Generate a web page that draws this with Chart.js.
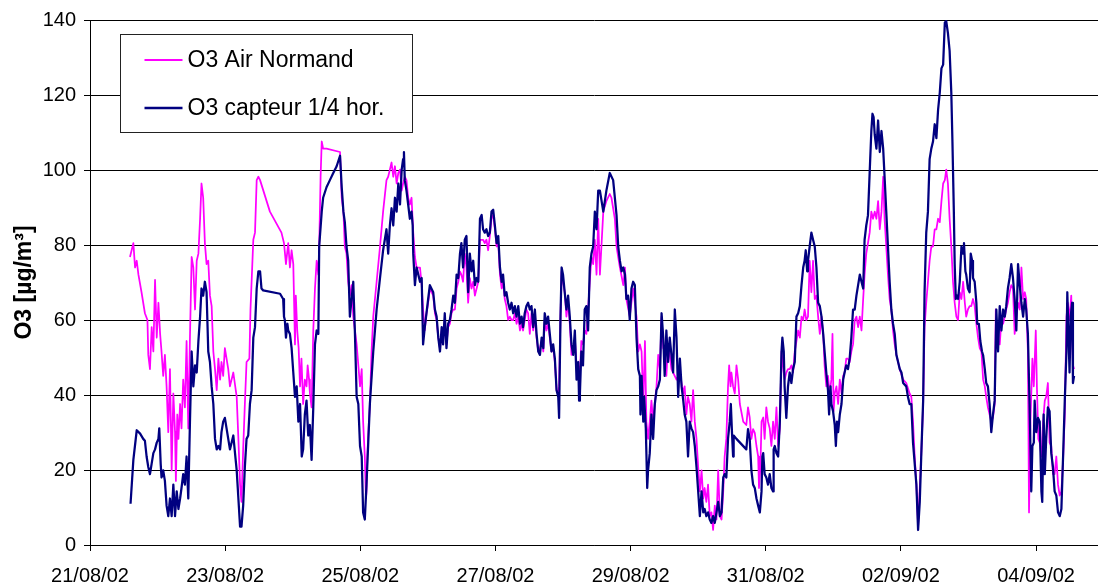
<!DOCTYPE html>
<html>
<head>
<meta charset="utf-8">
<script src="https://cdn.jsdelivr.net/npm/chart.js@4.4.1/dist/chart.umd.min.js"></script>
<style>
html,body{margin:0;padding:0;background:#fff;overflow:hidden;}
canvas{display:block;}
</style>
</head>
<body>
<canvas id="c" width="1098" height="586"></canvas>
<script>
// ---- DATA (time in hours since 21/08/02 00:00, O3 in µg/m3) ----
const seriesLabels = ['O3 Air Normand', 'O3 capteur 1/4 hor.'];
const yTitle = 'O3 [µg/m³]';
const tickHours = [0, 48, 96, 144, 192, 240, 288, 336];
const tickLabels = ['21/08/02', '23/08/02', '25/08/02', '27/08/02', '29/08/02', '31/08/02', '02/09/02', '04/09/02'];

const airHours = [
14.2,15.4,16.0,16.6,17.2,18.3,19.5,20.4,20.7,21.3,21.9,22.5,23.1,23.7,24.3,24.9,25.4,26.0,26.6,27.2,27.8,28.4,29.0,29.6,30.2,30.5,31.0,31.4,32.0,32.5,33.1,33.7,34.3,34.9,35.5,36.1,36.7,37.3,37.9,38.5,39.1,39.6,40.2,40.8,41.4,42.0,42.6,43.2,43.8,44.4,45.0,45.6,46.2,46.7,47.3,47.9,48.5,49.1,49.7,50.9,52.1,52.7,53.3,53.8,54.4,55.0,55.6,56.6,57.0,58.0,58.6,59.2,59.8,
60.4,63.9,68.0,68.9,69.6,70.4,71.0,71.6,72.2,72.8,73.1,73.6,74.1,74.6,75.1,75.7,76.3,76.9,77.3,77.8,78.1,78.7,79.3,79.9,80.5,81.1,81.4,81.9,82.3,82.8,84.0,88.8,89.4,90.0,90.5,91.1,91.7,92.3,92.9,93.5,94.7,95.3,95.9,96.5,97.0,97.6,98.0,98.2,98.5,98.8,99.4,100.0,100.6,101.8,103.0,104.1,105.3,105.9,106.5,107.1,107.7,108.3,108.9,109.5,110.1,110.7,111.2,111.8,112.4,113.0,113.6,114.2,114.8,115.4,116.0,117.2,117.8,118.3,118.9,119.5,120.1,
120.7,121.9,122.5,123.1,123.7,124.3,124.9,125.4,126.0,126.6,127.2,127.8,128.4,129.0,129.6,130.2,130.8,131.4,131.9,132.5,133.1,133.7,134.3,134.9,135.5,136.1,136.7,137.3,137.9,138.5,139.1,139.6,140.2,140.8,141.4,142.0,142.6,143.2,143.8,144.4,145.0,145.6,146.2,146.7,147.3,147.9,148.5,149.1,149.7,150.3,150.9,151.5,152.1,152.7,153.3,153.8,154.4,155.0,155.6,156.2,156.8,157.4,158.0,158.6,159.2,159.8,160.4,161.0,161.5,162.1,162.7,163.3,163.9,164.5,165.1,165.7,166.3,166.6,167.1,167.5,168.0,168.6,169.2,169.8,170.4,171.0,171.6,172.2,172.8,173.4,174.0,174.5,175.1,175.7,176.3,176.9,177.5,178.1,178.7,179.3,179.9,180.5,
181.1,182.3,183.4,184.6,185.2,186.4,187.0,188.2,189.4,190.0,190.5,191.7,192.9,194.1,194.7,195.3,195.9,196.5,197.1,197.6,198.2,198.8,199.4,200.0,201.2,201.8,202.4,203.0,203.6,204.1,204.7,205.3,205.9,206.5,207.1,208.3,209.5,210.7,211.2,211.8,212.4,213.0,213.6,214.2,214.8,215.4,216.0,216.6,217.2,217.8,218.3,218.9,219.5,220.1,220.7,221.3,221.9,222.5,223.1,223.7,224.3,224.9,225.4,226.0,226.6,227.0,227.5,227.8,228.4,229.0,229.6,230.2,230.8,232.0,233.1,233.7,234.3,234.9,235.5,236.1,236.7,237.3,237.6,238.1,238.5,239.1,239.6,240.2,240.8,
241.4,242.0,242.6,243.2,243.8,244.4,245.0,245.6,246.2,246.7,247.3,247.9,248.5,249.1,249.7,250.3,250.9,251.5,252.1,252.7,253.3,253.8,254.4,255.0,255.6,256.2,256.8,257.4,258.0,258.6,259.2,259.8,260.4,260.9,261.5,262.1,262.7,263.3,263.7,264.1,264.5,265.1,265.7,266.3,266.9,267.5,268.0,268.6,269.2,269.8,270.4,271.0,271.6,272.2,272.8,273.4,274.0,274.6,275.1,275.7,276.3,276.9,277.5,278.1,278.7,279.3,279.9,280.5,281.1,281.7,282.2,282.8,283.4,284.0,284.6,285.2,285.8,286.4,287.6,288.8,289.9,291.1,291.7,292.3,292.9,293.5,294.1,294.7,295.3,295.9,296.4,297.0,297.6,298.2,298.8,299.4,300.0,300.6,301.2,
301.8,302.4,303.0,303.6,304.1,304.7,305.3,305.9,306.5,307.1,307.7,308.3,308.9,309.5,310.1,310.7,311.2,311.8,312.4,313.0,313.6,314.2,314.8,315.4,316.0,316.6,317.2,317.8,318.3,318.9,319.5,320.1,320.7,321.3,321.7,322.1,322.6,323.1,323.7,324.3,324.9,325.4,326.0,326.6,327.2,327.8,328.4,329.0,329.6,330.2,330.8,331.4,332.0,332.5,333.1,333.5,334.0,334.7,335.2,335.9,336.3,336.8,337.3,337.9,338.5,339.1,339.6,340.2,340.8,341.4,342.0,342.6,343.2,343.8,344.4,345.0,345.6,346.2,346.8,347.3,347.9,348.5,349.1,349.5
];
const airValues = [
76.8,80.5,74.0,75.8,72.1,67.4,61.8,60.0,50.7,46.9,58.1,51.6,70.7,55.3,64.6,56.3,51.6,45.1,50.7,42.3,30.1,46.9,19.9,40.4,30.1,17.1,34.8,28.3,37.6,31.1,44.1,36.7,54.4,31.1,55.3,76.8,74.0,62.8,75.8,77.7,87.0,96.4,92.6,80.5,74.9,75.8,66.5,63.7,51.6,46.9,41.3,49.7,44.1,48.8,45.1,52.5,49.7,46.9,42.3,46.0,39.5,28.3,16.1,11.5,25.5,37.6,48.8,49.7,62.8,81.4,83.3,97.3,98.2,
97.3,88.9,83.3,80.5,74.9,80.5,74.0,78.6,74.9,53.5,66.5,57.2,52.5,42.3,49.7,37.6,44.1,42.3,47.9,44.1,40.4,36.7,57.2,68.4,75.8,72.1,79.6,98.2,107.6,105.7,105.7,104.8,92.6,88.9,79.6,77.7,70.2,66.5,69.3,60.9,53.5,47.9,42.3,46.9,32.9,23.6,12.4,14.3,23.6,29.2,37.6,51.6,60.9,70.2,79.6,88.9,97.3,98.2,100.1,102.0,98.2,101.0,96.4,99.2,100.1,94.5,96.4,98.2,97.3,92.6,90.8,92.6,83.3,76.8,74.0,74.0,69.3,62.8,57.2,61.8,64.6,
68.4,66.5,61.8,60.0,55.3,52.5,57.2,54.4,60.0,53.5,58.1,59.0,61.8,62.8,62.8,68.4,70.2,72.9,72.1,70.2,77.7,74.0,64.6,71.2,68.4,70.2,66.5,68.4,70.2,81.4,81.4,81.4,80.5,81.4,78.6,82.4,87.0,88.0,84.2,79.6,80.5,72.1,68.4,70.2,65.6,63.7,60.0,60.9,60.0,60.0,61.8,59.0,60.9,57.2,59.0,57.2,60.0,62.8,61.8,56.3,61.8,57.2,60.9,55.3,51.6,52.5,54.4,51.6,60.0,57.2,59.0,55.3,51.6,52.5,48.8,41.3,40.4,42.3,60.9,72.9,70.2,67.4,60.9,64.6,59.0,50.7,51.6,55.3,47.9,47.9,46.0,54.4,53.5,57.2,56.3,62.8,70.2,76.8,74.9,81.4,72.1,87.0,
72.1,88.9,91.7,93.6,92.6,87.0,79.6,74.0,69.3,74.0,65.6,60.9,68.4,60.9,51.6,53.5,51.6,37.6,54.4,32.9,28.3,32.9,38.5,32.9,42.3,50.7,46.9,60.9,52.5,51.6,45.1,53.5,50.7,46.9,46.0,44.1,46.0,40.4,42.3,34.8,39.5,37.6,32.9,41.3,32.9,28.3,20.8,14.3,19.9,12.4,15.2,11.5,16.1,7.7,8.7,4.0,10.5,6.8,19.9,7.7,6.8,14.3,23.6,28.3,42.3,47.9,42.3,46.0,42.3,40.4,47.9,44.1,37.6,32.9,32.0,36.7,34.0,28.3,30.9,29.9,26.4,23.6,15.2,20.8,32.9,34.0,28.3,36.7,32.9,
31.1,26.4,32.9,28.3,36.7,26.4,31.1,51.6,46.9,44.1,46.0,46.9,46.9,47.9,46.0,51.6,54.4,57.2,55.3,60.9,60.0,62.8,60.0,60.9,75.8,67.4,75.8,65.6,66.5,60.9,56.3,60.9,56.3,47.9,42.3,45.1,40.4,44.1,56.3,35.7,40.4,42.3,37.6,44.1,40.4,45.1,46.0,49.7,49.7,48.8,51.6,53.5,59.9,60.9,58.1,60.9,57.2,65.6,72.1,77.7,80.5,83.3,88.9,87.0,88.9,87.0,91.7,84.2,88.9,98.2,87.0,79.6,72.1,65.6,62.8,57.2,53.5,50.7,46.9,44.1,43.2,40.4,39.5,32.9,23.6,16.1,4.9,15.2,25.5,37.6,58.1,64.6,70.2,75.8,79.6,79.6,84.2,84.2,87.0,
86.1,91.7,96.4,97.3,100.1,96.4,87.0,79.6,70.2,64.6,60.9,60.0,67.4,65.6,70.2,64.6,60.9,62.8,63.7,63.7,65.6,63.7,59.0,55.3,52.5,51.6,44.1,42.3,39.5,36.7,34.8,32.9,34.0,37.6,62.8,52.5,54.3,53.5,60.0,59.0,60.9,62.8,64.6,67.4,69.3,68.4,56.3,60.9,64.6,62.8,74.0,65.6,67.4,65.6,51.6,8.7,32.9,49.7,42.3,57.2,42.3,28.3,27.3,23.6,32.9,38.5,39.5,43.2,27.3,26.4,18.9,18.9,23.6,16.1,13.2,14.3,22.6,34.8,60.9,64.6,60.0,66.5,47.9,46.9
];

const captHours = [
14.4,15.4,16.6,17.8,18.9,19.5,20.1,20.7,21.3,21.9,22.5,23.1,23.7,24.3,24.6,25.1,25.4,26.0,26.6,27.2,27.8,28.4,29.0,29.6,30.2,30.8,31.4,32.0,32.5,33.1,33.7,34.3,34.9,35.5,36.1,36.7,37.3,37.9,38.5,39.1,39.6,40.2,40.8,41.4,42.0,42.6,43.2,43.8,44.4,45.0,45.6,46.2,46.7,47.3,47.9,48.5,49.1,49.7,50.3,50.9,51.5,52.1,52.7,53.3,53.8,54.4,55.0,55.6,56.2,56.8,57.4,58.0,58.6,59.2,59.8,
60.4,60.9,61.5,67.5,68.6,68.9,69.2,69.6,70.1,70.4,71.0,71.6,72.2,72.8,73.4,74.0,74.6,75.2,75.7,76.3,76.9,77.5,78.1,78.7,79.3,79.9,80.5,81.1,81.4,82.3,82.8,84.0,85.2,86.4,87.6,88.8,89.4,90.0,90.5,91.1,91.7,92.3,92.9,93.5,94.1,94.7,95.3,95.9,96.5,97.0,97.6,98.2,99.4,100.6,101.8,103.0,104.1,105.3,105.9,106.5,107.1,107.7,108.3,108.9,109.5,110.1,110.7,111.2,111.5,111.8,112.4,113.0,113.6,114.2,114.6,114.8,115.4,116.0,116.6,117.2,117.8,118.3,118.9,119.5,120.1,
120.7,121.9,122.5,123.1,123.7,124.3,124.9,125.4,126.0,126.6,127.2,127.8,128.4,129.0,129.6,130.2,130.8,131.4,131.9,132.5,133.1,133.7,134.3,134.9,135.5,136.1,136.7,137.3,137.9,138.5,139.1,139.6,140.2,140.8,141.4,142.0,142.6,143.2,143.8,144.4,145.0,145.6,146.2,146.7,147.3,147.9,148.5,149.1,149.7,150.3,150.9,151.5,152.1,152.7,153.3,153.8,154.4,155.0,155.6,156.2,156.8,157.4,158.0,158.6,159.2,159.8,160.4,161.0,161.5,162.1,162.7,163.3,163.9,164.5,165.1,165.7,166.3,166.6,167.1,167.5,168.0,168.6,169.2,169.8,170.4,171.0,171.6,172.2,172.8,173.4,173.7,174.0,174.5,175.1,175.7,176.3,176.9,177.5,178.1,178.7,179.3,179.9,180.5,
181.1,182.3,183.4,184.6,185.8,187.0,187.6,188.2,188.8,189.4,190.0,190.5,191.1,191.7,192.3,192.9,193.5,194.1,194.7,195.3,195.5,195.9,196.5,196.8,197.4,197.9,198.2,198.8,199.4,200.0,200.6,201.2,201.8,202.4,203.0,203.6,204.1,204.7,205.3,205.9,206.5,207.1,207.7,208.3,208.9,209.5,210.1,210.7,211.2,211.8,212.4,213.0,213.6,214.2,214.8,215.4,216.0,216.6,217.2,217.8,218.3,218.9,219.5,220.1,220.7,221.3,221.9,222.5,223.1,223.7,224.3,224.9,225.4,226.0,226.6,227.2,227.6,228.0,228.4,228.6,229.6,233.1,233.7,234.3,234.9,235.5,236.1,236.7,237.3,237.9,238.5,238.8,239.1,239.6,240.2,240.8,
241.4,242.0,242.6,242.8,243.2,243.8,244.4,245.0,245.6,245.9,246.4,246.7,247.3,247.9,248.5,249.1,249.7,250.3,250.9,251.5,252.1,252.7,253.3,253.8,254.2,254.7,255.0,255.6,256.2,256.8,257.4,258.0,258.6,259.2,259.8,260.4,260.9,261.5,262.1,262.5,263.0,263.3,263.9,264.5,264.9,265.3,265.7,266.3,266.9,267.5,268.0,268.6,269.2,269.8,270.4,271.0,271.6,272.2,272.8,273.4,274.0,274.6,275.1,275.7,276.3,276.9,277.5,277.9,278.3,278.7,279.3,279.9,280.5,281.1,281.7,282.2,282.8,283.4,284.0,284.6,285.2,285.8,286.4,287.0,287.6,288.2,288.8,289.9,290.5,291.1,291.7,292.3,292.9,293.5,294.1,294.7,295.3,295.9,296.4,297.0,297.6,298.2,298.8,299.4,300.0,300.6,301.2,
301.8,302.4,303.0,303.6,304.1,304.7,305.3,305.9,306.3,306.8,307.1,307.5,307.9,308.3,308.9,309.5,310.1,310.4,310.9,311.2,311.8,312.4,312.8,313.3,313.6,314.2,314.8,315.1,315.7,316.2,316.8,317.2,317.8,318.3,318.9,319.5,320.1,320.7,321.3,321.9,322.5,323.1,323.7,324.3,324.9,325.4,326.0,326.6,327.2,327.8,328.4,329.0,329.6,330.2,330.8,331.4,332.0,332.5,333.1,333.7,334.3,334.7,335.2,335.5,336.1,336.7,337.3,337.9,338.2,338.7,339.1,339.6,340.2,340.8,341.4,342.0,342.6,343.2,343.8,344.4,345.0,345.6,346.2,346.8,347.1,347.5,347.9,348.3,348.8,349.1,349.5
];
const captValues = [
11.0,22.7,30.6,29.7,28.3,27.8,23.6,20.8,18.9,21.7,24.5,25.5,27.3,28.3,31.1,21.7,18.0,19.9,17.1,10.5,7.7,12.4,7.7,16.1,7.7,14.3,9.6,12.4,15.2,18.9,16.1,23.6,12.4,32.9,51.6,42.3,47.9,46.0,54.4,60.9,68.4,66.5,70.2,67.4,51.6,48.8,42.3,37.6,28.3,25.5,26.4,25.5,30.1,32.9,33.9,31.1,28.3,25.5,27.3,29.2,24.5,19.9,12.4,4.9,4.9,10.5,20.8,28.3,29.2,37.6,41.3,55.3,58.1,68.4,73.0,
73.0,68.4,67.9,67.0,65.6,60.9,60.0,55.3,59.0,57.2,56.3,52.5,46.0,39.5,42.3,32.9,37.6,23.6,25.5,34.8,38.5,29.2,32.0,22.7,36.7,53.5,57.2,56.3,79.6,88.9,92.6,95.4,97.3,99.2,101.0,103.8,95.4,88.9,86.1,79.6,75.8,60.9,65.6,70.2,56.3,39.5,37.6,26.4,23.6,8.7,6.8,16.1,37.6,51.6,62.8,71.2,78.6,84.2,77.7,85.2,89.8,85.2,92.6,88.9,96.4,90.8,100.1,102.9,104.8,97.3,94.5,90.8,87.0,88.9,85.2,77.7,69.3,74.0,72.1,70.2,71.2,53.5,58.1,61.8,65.6,
69.3,67.4,62.8,60.9,55.3,51.6,58.1,53.5,61.8,52.5,59.0,60.0,62.8,66.5,64.6,72.1,71.2,77.7,80.5,74.0,81.4,82.4,67.4,77.7,73.0,75.8,69.3,71.2,70.2,87.0,88.0,84.2,83.3,84.2,82.4,83.3,88.9,89.4,85.2,80.5,82.4,74.0,70.2,72.1,66.5,67.4,64.6,62.8,64.6,61.8,63.7,60.9,63.7,59.0,60.9,58.1,61.8,63.7,64.6,62.8,63.7,58.1,62.8,56.3,51.6,50.7,55.3,52.5,61.8,59.0,60.9,56.3,51.6,53.5,49.7,41.3,39.5,33.9,60.9,74.0,72.1,67.4,62.8,66.5,60.9,53.5,50.7,57.2,44.1,48.8,38.5,40.4,51.6,47.9,62.8,63.7,57.2,74.0,77.7,79.6,88.9,84.2,94.5,
94.5,88.9,94.5,99.2,97.3,88.0,79.6,75.8,73.0,74.0,72.1,65.6,66.5,60.0,68.4,70.2,69.3,55.3,46.9,45.1,34.8,45.1,32.9,39.5,31.1,15.2,19.9,24.5,34.8,28.3,37.6,41.3,42.3,44.1,61.8,55.3,45.1,57.2,48.8,55.3,50.7,46.0,62.8,55.3,39.5,49.7,42.3,38.5,34.8,32.9,23.6,32.9,31.1,30.1,26.4,20.8,14.3,7.7,14.3,8.7,9.6,7.7,8.7,6.8,5.9,7.7,5.9,8.7,11.5,7.7,8.7,18.0,18.9,18.0,28.3,32.9,37.6,30.1,23.6,29.2,28.3,25.5,30.9,28.3,19.9,16.1,15.2,12.4,10.5,8.7,14.3,23.6,24.5,18.9,18.0,16.1,
18.9,15.2,14.3,25.5,26.4,24.5,23.6,32.9,51.6,55.3,51.6,42.3,33.9,42.3,46.0,43.2,46.9,48.8,60.9,61.8,63.7,69.3,74.0,75.8,78.6,73.0,75.8,79.6,83.3,81.4,79.6,74.0,64.6,63.7,60.9,56.3,51.6,46.0,41.3,34.8,42.3,37.6,35.7,32.0,26.4,32.9,30.1,34.8,37.6,44.1,46.0,47.9,46.9,49.7,55.3,62.8,62.8,66.5,69.3,72.1,70.2,68.4,81.4,85.2,87.9,99.2,110.4,115.0,114.1,109.4,105.7,113.2,104.8,110.4,105.7,98.2,88.9,79.6,70.2,62.8,59.0,56.3,50.7,48.8,46.9,46.0,43.2,42.3,39.5,37.6,37.6,27.3,21.7,16.1,4.0,11.5,25.5,38.5,67.4,83.3,88.9,102.9,105.7,107.6,112.2,108.5,116.0,
120.6,127.1,128.1,139.3,139.7,136.5,131.8,120.6,107.6,88.9,74.9,65.6,66.5,65.6,70.2,79.6,77.7,80.5,73.0,72.1,68.4,67.4,77.7,75.8,71.2,70.2,64.6,59.0,59.0,54.4,51.6,50.6,46.9,43.2,42.3,37.6,30.1,34.8,38.5,62.8,51.6,63.7,57.2,62.8,60.9,63.7,68.4,71.2,74.9,71.2,65.6,57.2,74.9,69.3,64.6,60.9,65.6,62.8,56.3,37.6,14.3,26.4,27.3,38.5,30.1,33.9,32.9,14.3,11.5,34.8,18.9,28.3,36.7,35.7,24.5,20.8,14.3,13.2,8.7,7.7,9.6,23.6,38.5,51.6,67.4,56.3,46.0,60.9,64.6,43.2,45.1
];

function toPoints(hours, values) {
  const n = Math.min(hours.length, values.length);
  const pts = [];
  for (let i = 0; i < n; i++) pts.push({x: hours[i], y: values[i]});
  return pts;
}

const FONT = "'Liberation Sans', Arial, Helvetica, sans-serif";
const airColor = '#FF00FF';
const captColor = '#000080';

const boxLegend = {
  id: 'boxLegend',
  afterDraw(chart) {
    const ctx = chart.ctx;
    const a = chart.chartArea;
    const bx = a.left + 30.5, by = a.top + 14.5, bw = 292, bh = 98;
    ctx.save();
    ctx.fillStyle = '#fff';
    ctx.fillRect(bx, by, bw, bh);
    ctx.strokeStyle = '#222';
    ctx.lineWidth = 1;
    ctx.strokeRect(bx, by, bw, bh);
    const items = [
      {label: seriesLabels[0], color: airColor, w: 2, y: by + 25.5},
      {label: seriesLabels[1], color: captColor, w: 2.5, y: by + 73.5}
    ];
    ctx.font = '23px ' + FONT;
    ctx.textBaseline = 'middle';
    ctx.textAlign = 'left';
    items.forEach(it => {
      ctx.strokeStyle = it.color;
      ctx.lineWidth = it.w;
      ctx.beginPath();
      ctx.moveTo(bx + 24, it.y);
      ctx.lineTo(bx + 62, it.y);
      ctx.stroke();
      ctx.fillStyle = '#000';
      ctx.fillText(it.label, bx + 67, it.y + 1);
    });
    ctx.restore();
  }
};

new Chart(document.getElementById('c'), {
  type: 'line',
  data: {
    datasets: [
      {
        label: seriesLabels[1],
        data: toPoints(captHours, captValues),
        borderColor: captColor,
        borderWidth: 2.25,
        pointRadius: 0,
        tension: 0,
        fill: false,
        borderJoinStyle: 'round',
        order: 0
      },
      {
        label: seriesLabels[0],
        data: toPoints(airHours, airValues),
        borderColor: airColor,
        borderWidth: 1.75,
        pointRadius: 0,
        tension: 0,
        fill: false,
        borderJoinStyle: 'round',
        order: 1
      }
    ]
  },
  options: {
    responsive: false,
    animation: false,
    devicePixelRatio: 1,
    layout: {padding: {top: 19, right: 0, bottom: 0, left: 0}},
    plugins: {legend: {display: false}, tooltip: {enabled: false}},
    scales: {
      x: {
        type: 'linear',
        min: 0,
        max: 358,
        afterBuildTicks: (scale) => { scale.ticks = tickHours.map(v => ({value: v})); },
        afterFit: (scale) => { scale.height = 41; },
        grid: {display: true, drawOnChartArea: false, drawTicks: true, tickLength: 6, color: '#000', lineWidth: 1},
        border: {display: true, color: '#000', width: 1},
        ticks: {
          autoSkip: false,
          maxRotation: 0,
          padding: 13,
          color: '#000',
          font: {family: FONT, size: 20},
          callback: (v) => { const i = tickHours.indexOf(v); return i >= 0 ? tickLabels[i] : ''; }
        }
      },
      y: {
        type: 'linear',
        min: 0,
        max: 140,
        afterFit: (scale) => { scale.width = 90; },
        grid: {display: true, drawOnChartArea: true, drawTicks: true, tickLength: 6, color: '#000', lineWidth: 1},
        border: {display: true, color: '#000', width: 1},
        ticks: {stepSize: 20, padding: 8, color: '#000', font: {family: FONT, size: 20}},
        title: {display: true, text: yTitle, color: '#000', font: {family: FONT, size: 23, weight: 'bold'}, padding: {top: 11, bottom: 0}}
      }
    }
  },
  plugins: [boxLegend]
});
</script>
</body>
</html>
